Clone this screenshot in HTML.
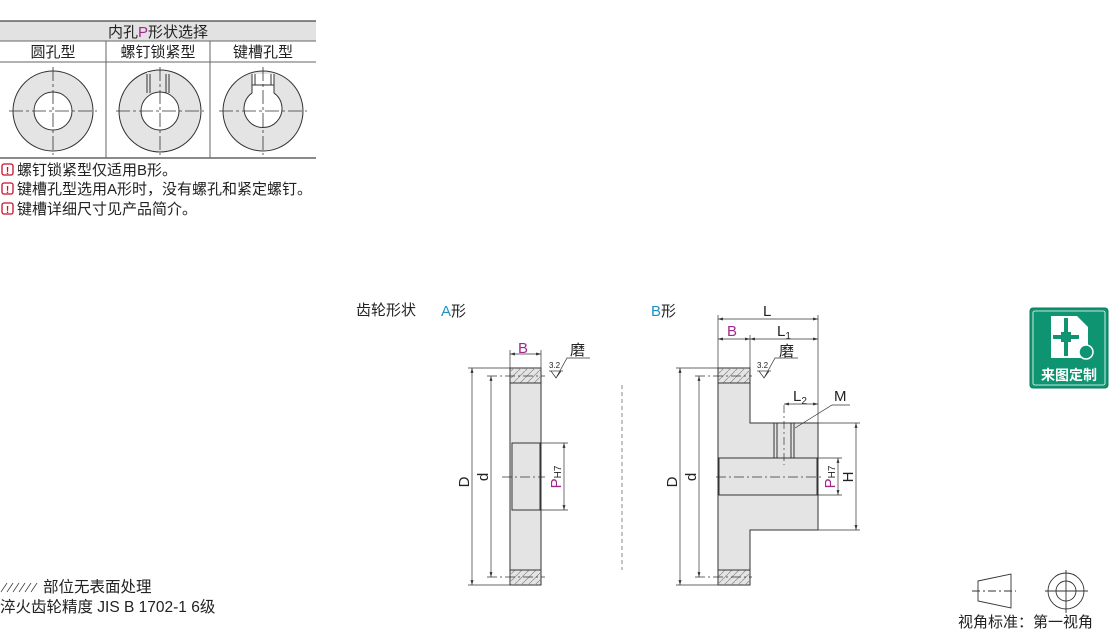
<!DOCTYPE html>
<html><head><meta charset="utf-8"><style>
body{margin:0;background:#fff;width:1110px;height:632px;overflow:hidden}
svg{display:block}
text{font-family:"Liberation Sans","Noto Sans CJK SC",sans-serif;fill:#222}
</style></head><body>
<svg width="1110" height="632" viewBox="0 0 1110 632" xmlns="http://www.w3.org/2000/svg">
<defs>
<marker id="ar" viewBox="0 0 10 10" refX="10" refY="5" markerWidth="7" markerHeight="7" orient="auto-start-reverse"><path d="M0,2 L10,5 L0,8 z" fill="#333"/></marker>
<pattern id="hat" width="7" height="7" patternUnits="userSpaceOnUse"><path d="M0,7 L7,0" stroke="#888" stroke-width="0.7"/></pattern>
</defs>
<!-- table -->
<rect x="0" y="21" width="316" height="20" fill="#e2e2e2"/>
<line x1="0" y1="21" x2="316" y2="21" stroke="#444" stroke-width="1.2"/>
<line x1="0" y1="41" x2="316" y2="41" stroke="#666"/>
<line x1="0" y1="62" x2="316" y2="62" stroke="#666"/>
<line x1="0" y1="158" x2="316" y2="158" stroke="#444" stroke-width="1.2"/>
<line x1="106" y1="41" x2="106" y2="158" stroke="#666"/>
<line x1="210" y1="41" x2="210" y2="158" stroke="#666"/>
<text x="158" y="37" font-size="15" text-anchor="middle">内孔<tspan style="fill:#a0288c">P</tspan>形状选择</text>
<text x="53" y="57" font-size="15" text-anchor="middle">圆孔型</text>
<text x="158" y="57" font-size="15" text-anchor="middle">螺钉锁紧型</text>
<text x="263" y="57" font-size="15" text-anchor="middle">键槽孔型</text>
<g stroke="#333" stroke-width="1">
<circle cx="53" cy="111" r="40" fill="#e4e4e4"/><circle cx="53" cy="111" r="19" fill="#fff"/>
<circle cx="160" cy="111" r="41" fill="#e4e4e4"/><rect x="147" y="72" width="22" height="22" fill="#e4e4e4" stroke="none"/>
<line x1="147" y1="74" x2="147" y2="93"/><line x1="150" y1="74" x2="150" y2="93"/><line x1="166" y1="74" x2="166" y2="93"/><line x1="169" y1="74" x2="169" y2="93"/>
<circle cx="160" cy="111" r="19" fill="#fff"/>
<circle cx="263" cy="111" r="40" fill="#e4e4e4"/>
<path d="M252,74 L252,93 A19,19 0 1 0 274,93 L274,74" fill="#fff"/>
<line x1="252" y1="85" x2="274" y2="85"/><line x1="255" y1="74" x2="255" y2="85"/><line x1="271" y1="74" x2="271" y2="85"/>
</g>
<g stroke="#333" stroke-width="0.8">
<line x1="9" y1="111" x2="97" y2="111" stroke-dasharray="14,3,3,3"/><line x1="53" y1="67" x2="53" y2="155" stroke-dasharray="14,3,3,3"/>
<line x1="116" y1="111" x2="204" y2="111" stroke-dasharray="14,3,3,3"/><line x1="160" y1="67" x2="160" y2="155" stroke-dasharray="14,3,3,3"/>
<line x1="219" y1="111" x2="307" y2="111" stroke-dasharray="14,3,3,3"/><line x1="263" y1="67" x2="263" y2="155" stroke-dasharray="14,3,3,3"/>
</g>
<!-- notes -->
<g font-size="15">
<rect x="2" y="164" width="11" height="11" rx="2" fill="none" stroke="#c8102e" stroke-width="1.3"/><text x="7.5" y="174" font-size="10" text-anchor="middle" style="fill:#c8102e" font-weight="bold">!</text>
<text x="17" y="175">螺钉锁紧型仅适用B形。</text>
<rect x="2" y="183" width="11" height="11" rx="2" fill="none" stroke="#c8102e" stroke-width="1.3"/><text x="7.5" y="193" font-size="10" text-anchor="middle" style="fill:#c8102e" font-weight="bold">!</text>
<text x="17" y="194">键槽孔型选用A形时，没有螺孔和紧定螺钉。</text>
<rect x="2" y="203" width="11" height="11" rx="2" fill="none" stroke="#c8102e" stroke-width="1.3"/><text x="7.5" y="213" font-size="10" text-anchor="middle" style="fill:#c8102e" font-weight="bold">!</text>
<text x="17" y="214">键槽详细尺寸见产品简介。</text>
</g>
<text x="356" y="315" font-size="15">齿轮形状</text>
<text x="441" y="316" font-size="15"><tspan style="fill:#1f8fc6">A</tspan>形</text>
<text x="651" y="316" font-size="15"><tspan style="fill:#1f8fc6">B</tspan>形</text>
<line x1="622" y1="385" x2="622" y2="570" stroke="#888" stroke-dasharray="4,3"/>
<!-- A shape -->
<g stroke="#333" stroke-width="1">
<rect x="510" y="368" width="31" height="217" fill="#e4e4e4"/>
<rect x="510" y="368" width="31" height="15" fill="url(#hat)" stroke="none"/>
<rect x="510" y="570" width="31" height="15" fill="url(#hat)" stroke="none"/>
<line x1="510" y1="383" x2="541" y2="383"/><line x1="510" y1="570" x2="541" y2="570"/>
<rect x="512" y="443" width="28" height="67" fill="#e4e4e4"/>
<line x1="468" y1="368" x2="510" y2="368" stroke-width="0.7"/><line x1="468" y1="585" x2="510" y2="585" stroke-width="0.7"/>
<line x1="487" y1="376" x2="545" y2="376" stroke-width="0.7" stroke-dasharray="10,3,2,3"/><line x1="487" y1="577" x2="545" y2="577" stroke-width="0.7" stroke-dasharray="10,3,2,3"/>
<line x1="472" y1="368" x2="472" y2="585" stroke-width="0.7" marker-start="url(#ar)" marker-end="url(#ar)"/>
<line x1="491" y1="376" x2="491" y2="577" stroke-width="0.7" marker-start="url(#ar)" marker-end="url(#ar)"/>
<line x1="510" y1="350" x2="510" y2="368" stroke-width="0.7"/><line x1="541" y1="350" x2="541" y2="368" stroke-width="0.7"/>
<line x1="510" y1="354" x2="541" y2="354" stroke-width="0.7" marker-start="url(#ar)" marker-end="url(#ar)"/>
<line x1="540" y1="443" x2="568" y2="443" stroke-width="0.7"/><line x1="540" y1="510" x2="568" y2="510" stroke-width="0.7"/>
<line x1="564" y1="443" x2="564" y2="510" stroke-width="0.7" marker-start="url(#ar)" marker-end="url(#ar)"/>
<line x1="502" y1="477" x2="545" y2="477" stroke-width="0.7" stroke-dasharray="10,3,2,3"/>
<path d="M551,371 L556,378 L561,371 M556,378 L567,358 L590,358" fill="none" stroke-width="0.7"/><line x1="549" y1="371" x2="563" y2="371" stroke-width="0.7"/>
</g>
<text x="518" y="353" font-size="15" style="fill:#a0288c">B</text>
<text x="549" y="368" font-size="8">3.2</text>
<text x="570" y="355" font-size="15">磨</text>
<text x="469" y="482" font-size="15" transform="rotate(-90 469 482)" text-anchor="middle">D</text>
<text x="488" y="477" font-size="15" transform="rotate(-90 488 477)" text-anchor="middle">d</text>
<text x="561" y="477" font-size="15" transform="rotate(-90 561 477)" text-anchor="middle" style="fill:#a0288c">P<tspan font-size="10" style="fill:#222">H7</tspan></text>
<!-- B shape -->
<g stroke="#333" stroke-width="1">
<path d="M718,368 L750,368 L750,423 L818,423 L818,530 L750,530 L750,585 L718,585 Z" fill="#e4e4e4"/>
<rect x="718" y="368" width="32" height="15" fill="url(#hat)" stroke="none"/>
<rect x="718" y="570" width="32" height="15" fill="url(#hat)" stroke="none"/>
<line x1="718" y1="383" x2="750" y2="383"/><line x1="718" y1="570" x2="750" y2="570"/>
<rect x="719" y="458" width="98" height="37" fill="#e4e4e4"/>
<line x1="774" y1="423" x2="774" y2="458"/><line x1="777" y1="423" x2="777" y2="458"/><line x1="791" y1="423" x2="791" y2="458"/><line x1="794" y1="423" x2="794" y2="458"/>
<line x1="784" y1="405" x2="784" y2="465" stroke-width="0.7" stroke-dasharray="8,3,2,3"/>
<line x1="716" y1="477" x2="822" y2="477" stroke-width="0.7" stroke-dasharray="10,3,2,3"/>
<line x1="718" y1="315" x2="718" y2="368" stroke-width="0.7"/><line x1="818" y1="315" x2="818" y2="423" stroke-width="0.7"/>
<line x1="750" y1="335" x2="750" y2="368" stroke-width="0.7"/>
<line x1="718" y1="319" x2="818" y2="319" stroke-width="0.7" marker-start="url(#ar)" marker-end="url(#ar)"/>
<line x1="718" y1="339" x2="750" y2="339" stroke-width="0.7" marker-start="url(#ar)" marker-end="url(#ar)"/>
<line x1="750" y1="339" x2="818" y2="339" stroke-width="0.7" marker-start="url(#ar)" marker-end="url(#ar)"/>
<line x1="784" y1="404" x2="818" y2="404" stroke-width="0.7" marker-start="url(#ar)" marker-end="url(#ar)"/>
<path d="M795,428 L832,405 L850,405" fill="none" stroke-width="0.7"/>
<line x1="676" y1="368" x2="718" y2="368" stroke-width="0.7"/><line x1="676" y1="585" x2="718" y2="585" stroke-width="0.7"/>
<line x1="695" y1="376" x2="752" y2="376" stroke-width="0.7" stroke-dasharray="10,3,2,3"/><line x1="695" y1="577" x2="752" y2="577" stroke-width="0.7" stroke-dasharray="10,3,2,3"/>
<line x1="680" y1="368" x2="680" y2="585" stroke-width="0.7" marker-start="url(#ar)" marker-end="url(#ar)"/>
<line x1="699" y1="376" x2="699" y2="577" stroke-width="0.7" marker-start="url(#ar)" marker-end="url(#ar)"/>
<line x1="818" y1="423" x2="860" y2="423" stroke-width="0.7"/><line x1="818" y1="530" x2="860" y2="530" stroke-width="0.7"/>
<line x1="856" y1="423" x2="856" y2="530" stroke-width="0.7" marker-start="url(#ar)" marker-end="url(#ar)"/>
<line x1="817" y1="458" x2="842" y2="458" stroke-width="0.7"/><line x1="817" y1="495" x2="842" y2="495" stroke-width="0.7"/>
<line x1="838" y1="458" x2="838" y2="495" stroke-width="0.7" marker-start="url(#ar)" marker-end="url(#ar)"/>
<path d="M759,371 L764,378 L769,371 M764,378 L775,358 L798,358" fill="none" stroke-width="0.7"/><line x1="757" y1="371" x2="771" y2="371" stroke-width="0.7"/>
</g>
<text x="763" y="316" font-size="15">L</text>
<text x="727" y="336" font-size="15" style="fill:#a0288c">B</text>
<text x="777" y="336" font-size="15">L<tspan font-size="10" dy="3">1</tspan></text>
<text x="757" y="368" font-size="8">3.2</text>
<text x="779" y="356" font-size="15">磨</text>
<text x="793" y="401" font-size="15">L<tspan font-size="10" dy="3">2</tspan></text>
<text x="834" y="401" font-size="15">M</text>
<text x="677" y="482" font-size="15" transform="rotate(-90 677 482)" text-anchor="middle">D</text>
<text x="696" y="477" font-size="15" transform="rotate(-90 696 477)" text-anchor="middle">d</text>
<text x="835" y="477" font-size="15" transform="rotate(-90 835 477)" text-anchor="middle" style="fill:#a0288c">P<tspan font-size="10" style="fill:#222">H7</tspan></text>
<text x="853" y="477" font-size="15" transform="rotate(-90 853 477)" text-anchor="middle">H</text>
<!-- badge -->
<rect x="1030" y="308" width="78" height="80" rx="3" fill="#0e9470" stroke="#0a7a5c"/>
<rect x="1033" y="311" width="72" height="74" rx="2" fill="none" stroke="#fff" stroke-width="0.8"/>
<path d="M1051,316 L1077,316 L1088,327 L1088,358 L1051,358 Z" fill="#fff"/>
<rect x="1064" y="318" width="4" height="38" fill="#0e9470"/><rect x="1053" y="335" width="26" height="4" fill="#0e9470"/>
<rect x="1061" y="332" width="10" height="10" fill="#0e9470"/>
<circle cx="1086" cy="352" r="7" fill="#0e9470" stroke="#fff" stroke-width="1.5"/>
<text x="1069" y="380" font-size="14" font-weight="bold" text-anchor="middle" style="fill:#fff">来图定制</text>
<!-- projection -->
<g stroke="#333" stroke-width="0.9" fill="none">
<path d="M978,581 L1011,574 L1011,608 L978,601 Z"/>
<line x1="972" y1="591" x2="1016" y2="591" stroke-dasharray="8,3,2,3"/>
<circle cx="1066" cy="591" r="18"/><circle cx="1066" cy="591" r="10"/>
<line x1="1045" y1="591" x2="1088" y2="591"/><line x1="1066" y1="570" x2="1066" y2="613"/>
</g>
<text x="958" y="627" font-size="15">视角标准：第一视角</text>
<!-- bottom-left notes -->
<g stroke="#444" stroke-width="0.8"><line x1="1" y1="592" x2="7" y2="583"/><line x1="7" y1="592" x2="13" y2="583"/><line x1="13" y1="592" x2="19" y2="583"/><line x1="19" y1="592" x2="25" y2="583"/><line x1="25" y1="592" x2="31" y2="583"/><line x1="31" y1="592" x2="37" y2="583"/></g>
<text x="43" y="592" font-size="15.5">部位无表面处理</text>
<text x="0" y="612" font-size="15.5">淬火齿轮精度 JIS B 1702-1 6级</text>
</svg>
</body></html>
